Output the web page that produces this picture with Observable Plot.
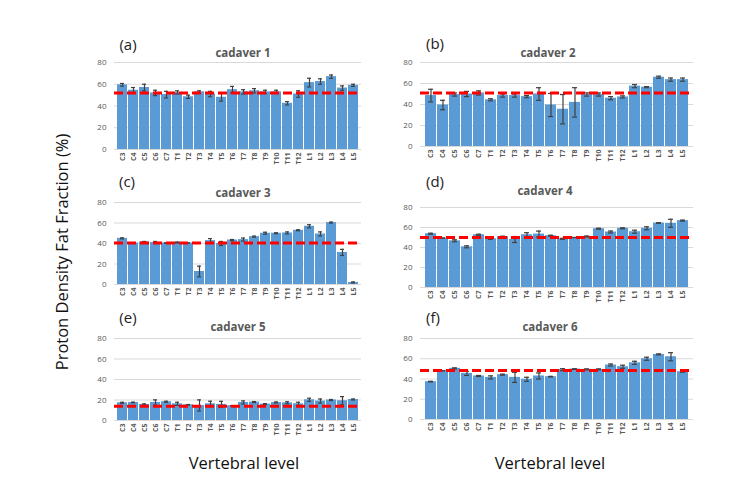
<!DOCTYPE html>
<html>
<head>
<meta charset="utf-8">
<script src="https://cdn.jsdelivr.net/npm/d3@7"></script>
<script src="https://cdn.jsdelivr.net/npm/@observablehq/plot@0.6"></script>
<style>
  html, body { margin: 0; padding: 0; background: #fff; }
  #root { position: relative; width: 737px; height: 497px; overflow: hidden; background: #fff; font-family: "Open Sans", sans-serif; }
  .abs { position: absolute; }
  .ctr { position: absolute; transform: translate(-50%, -50%); white-space: nowrap; }
  .ttl { font-size: 11.5px; font-weight: bold; color: #595959; }
  .lab { font-size: 15px; color: #222; }
  .big { font-size: 16.5px; color: #111; }
</style>
</head>
<body>
<div id="root"></div>
<script>
const levels = ["C3","C4","C5","C6","C7","T1","T2","T3","T4","T5","T6","T7","T8","T9","T10","T11","T12","L1","L2","L3","L4","L5"];
const yTicks = [0, 20, 40, 60, 80];

const cadaver1 = [59.5,54.5,57,52,50.5,52.5,48.5,53,51,48,55,53,54,53,53,42.5,51,61.5,62.5,67,56.5,59];
const err1     = [1.2,2.5,3,2.5,3,1.5,1.5,1,2.5,3.5,3,2,2,1.5,1.5,1.5,3,4,2.5,1.5,2,1];
const cadaver2 = [48.5,39.5,49.5,50,51,44.5,48.5,48.5,47.5,50,39.5,35.5,42,49.5,49.5,46,47.2,57.5,56.5,66,63.7,63.7];
const err2     = [6,4.5,1.5,2.5,2,1,1.5,1.5,1,6,11,14,14,1.5,1.5,1.5,1,1.5,0.5,1,1.5,1.5];
const cadaver3 = [45,40.5,41.5,41,40.5,41,40.5,12.7,42.8,40,43.4,43.8,46.7,50,50,50.3,52.9,56.8,49.3,60.4,31.3,2];
const err3     = [0.5,0,0.5,1,0,0.5,0,5.2,2,2,0.5,1.5,0.5,1,0.5,1,0.5,1.5,2,0.5,3,0.5];
const cadaver4 = [53.8,49.4,46.7,40.7,52.8,48.7,50.8,48,52.8,53.4,51.8,48.7,50,51,58.8,55.5,59.2,55.8,59.2,64.5,64.2,66.9];
const err4     = [0.5,0,1,1,0.5,0.5,0.5,3,2,3,0.5,0.5,0,0.5,0.5,1,0.5,1.5,1.5,0.3,4,0.5];
const cadaver5 = [17.3,17.6,15.7,17.6,18.3,16.3,15.3,14.7,16.3,15.7,14.4,17.6,18,16,17.6,17.3,16.3,20.2,19,20,19.3,20.5];
const err5     = [0.5,0.3,0.5,2.5,0.5,1.5,0.3,5.4,2.5,3,0,1.5,0.5,0.5,0.5,1,1.5,1.5,2,0.5,4,0.5];
const cadaver6 = [37.4,48.2,50.5,45.6,43,41.6,44.3,41.6,39.7,43,42.3,49.2,49.8,49.5,49.5,53.8,52.1,56,60,64.3,62,47.2];
const err6     = [0.3,0,0.5,2,0.5,1.5,0.5,5,2,3,0.3,1,0.3,0.5,0.5,1,1.5,1.5,1.5,0.5,4,0.5];
const means    = [52, 51, 40.5, 50, 14, 48.5];

const panelLabels = ["(a)","(b)","(c)","(d)","(e)","(f)"];
const panelTitles = ["cadaver 1","cadaver 2","cadaver 3","cadaver 4","cadaver 5","cadaver 6"];
const series = [cadaver1, cadaver2, cadaver3, cadaver4, cadaver5, cadaver6];
const errors = [err1, err2, err3, err4, err5, err6];

// layout: plot frame left/right, y of 80 and y of 0, label pos, title pos
const layout = [
  {l:114, r:361, t:62, b:149, lx:128, ly:44, tx:243, ty:52},
  {l:420, r:693, t:62, b:146, lx:435, ly:43, tx:548, ty:52},
  {l:114, r:361, t:202, b:284, lx:127, ly:181, tx:243, ty:192},
  {l:420, r:693, t:207, b:287, lx:435, ly:181, tx:545, ty:190},
  {l:114, r:361, t:338, b:420, lx:128, ly:317, tx:238, ty:326},
  {l:420, r:693, t:338, b:419, lx:433, ly:317, tx:550, ty:326}
];

const root = document.getElementById("root");
const ML = 30, MR = 2, MT = 5, MB = 24;

function addText(cls, txt, x, y) {
  const d = document.createElement("div");
  d.className = "ctr " + cls;
  d.style.left = x + "px";
  d.style.top = y + "px";
  d.textContent = txt;
  root.appendChild(d);
  return d;
}

series.forEach((vals, k) => {
  const L = layout[k];
  const data = levels.map((lv, i) => ({level: lv, v: vals[i], e: errors[k][i]}));
  const w = ML + (L.r - L.l) + MR;
  const h = MT + (L.b - L.t) + MB;
  const chart = Plot.plot({
    width: w,
    height: h,
    marginLeft: ML, marginRight: MR, marginTop: MT, marginBottom: MB,
    style: {fontFamily: "Open Sans, sans-serif", fontSize: "8px", color: "#595959", background: "transparent", overflow: "visible"},
    x: {domain: levels, paddingInner: 0.12, paddingOuter: 0.04, label: null},
    y: {domain: [0, 80], label: null},
    marks: [
      Plot.gridY(yTicks, {stroke: "#D9D9D9", strokeOpacity: 1}),
      Plot.axisY(yTicks, {tickSize: 0, tickPadding: 8, fontSize: 8, color: "#595959", label: null}),
      Plot.axisX({tickSize: 0, tickRotate: -90, tickPadding: 3, fontSize: 7, fontWeight: "bold", color: "#595959", label: null}),
      Plot.barY(data, {x: "level", y: "v", fill: "#5B9BD5"}),
      Plot.ruleX(data.filter(d => d.e > 0), {x: "level", y1: d => d.v - d.e, y2: d => d.v + d.e, stroke: "#404040", strokeWidth: 1.2}),
      Plot.tickY(data, {x: "level", y: d => d.v - d.e, stroke: "#404040", strokeWidth: 1.2, insetLeft: 3, insetRight: 3}),
      Plot.tickY(data, {x: "level", y: d => d.v + d.e, stroke: "#404040", strokeWidth: 1.2, insetLeft: 3, insetRight: 3}),
      Plot.ruleY([means[k]], {stroke: "#FF0000", strokeWidth: 3, strokeDasharray: "9,4"})
    ]
  });
  const wrap = document.createElement("div");
  wrap.className = "abs";
  wrap.style.left = (L.l - ML) + "px";
  wrap.style.top = (L.t - MT) + "px";
  wrap.appendChild(chart);
  root.appendChild(wrap);
  addText("lab", panelLabels[k], L.lx, L.ly);
  addText("ttl", panelTitles[k], L.tx, L.ty);
});

addText("big", "Vertebral level", 244, 462);
addText("big", "Vertebral level", 550, 462);
const yt = addText("big", "Proton Density Fat Fraction (%)", 61, 252);
yt.style.transform = "translate(-50%, -50%) rotate(-90deg)";
</script>
</body>
</html>
